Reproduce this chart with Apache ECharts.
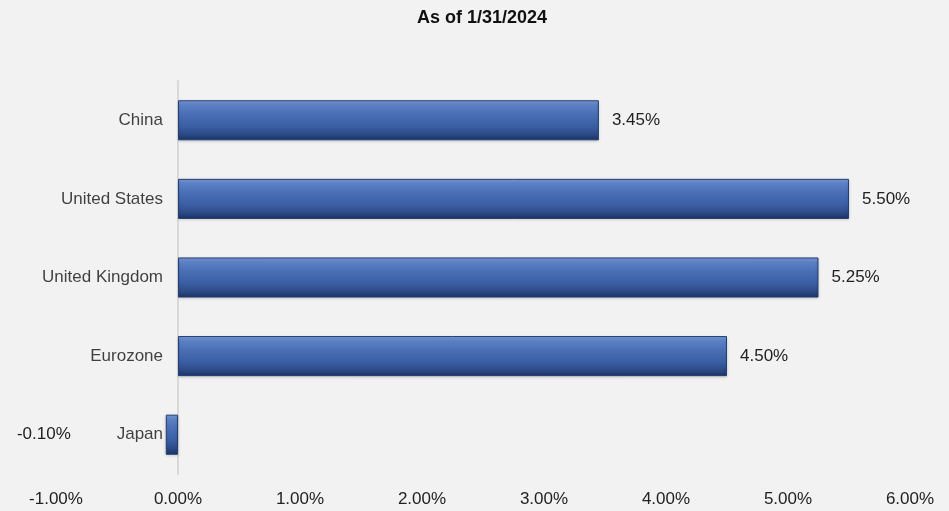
<!DOCTYPE html>
<html>
<head>
<meta charset="utf-8">
<script src="https://cdn.jsdelivr.net/npm/echarts@6/dist/echarts.min.js"></script>
<style>
  html, body { margin: 0; padding: 0; background: #f2f2f2; }
  #chart { width: 949px; height: 511px; }
</style>
</head>
<body>
<div id="chart"></div>
<script>
// Policy rates by economy, in percent
const categories = ['China', 'United States', 'United Kingdom', 'Eurozone', 'Japan'];
const rates = [3.45, 5.50, 5.25, 4.50, -0.10];
const axisMin = -1;
const axisMax = 6;
const axisStep = 1;

const FONT = '"Liberation Sans", Arial, sans-serif';

const barFill = new echarts.graphic.LinearGradient(0, 0, 0, 1, [
  { offset: 0.00, color: '#7f9fd8' },
  { offset: 0.12, color: '#5b80c5' },
  { offset: 0.35, color: '#4a6fb6' },
  { offset: 0.65, color: '#3b5ea3' },
  { offset: 0.85, color: '#2c4a86' },
  { offset: 1.00, color: '#1b3264' }
]);

const seriesData = rates.map(function (v) {
  const item = { value: v };
  if (v < 0) {
    item.label = { position: 'left', distance: 95 };
  }
  return item;
});

const chart = echarts.init(document.getElementById('chart'), null, { renderer: 'canvas' });
chart.setOption({
  backgroundColor: '#f2f2f2',
  animation: false,
  title: {
    text: 'As of 1/31/2024',
    left: 412,
    top: 4,
    textStyle: { fontFamily: FONT, fontSize: 18, fontWeight: 'bold', color: '#111' }
  },
  grid: { left: 56, right: 39, top: 81, bottom: 37, containLabel: false },
  xAxis: {
    type: 'value',
    min: axisMin,
    max: axisMax,
    interval: axisStep,
    splitLine: { show: false },
    axisLine: { show: false },
    axisTick: { show: false },
    axisLabel: {
      margin: 17,
      fontFamily: FONT,
      fontSize: 17,
      color: '#222',
      formatter: function (v) { return v.toFixed(2) + '%'; }
    }
  },
  yAxis: {
    type: 'category',
    data: categories,
    inverse: true,
    axisLine: { show: true, onZero: true, lineStyle: { color: '#d9d9d9', width: 2 } },
    axisTick: { show: false },
    axisLabel: { show: false }
  },
  series: [
    {
      type: 'bar',
      data: seriesData,
      barWidth: '51%',
      itemStyle: {
        color: barFill,
        borderColor: '#233f74',
        borderWidth: 1,
        shadowColor: 'rgba(0,0,0,0.18)',
        shadowBlur: 3,
        shadowOffsetY: 1
      },
      label: {
        show: true,
        position: 'right',
        distance: 13,
        fontFamily: FONT,
        fontSize: 17,
        color: '#222',
        formatter: function (p) { return p.value.toFixed(2) + '%'; }
      }
    },
    {
      // category names placed just left of the zero line
      type: 'scatter',
      data: categories.map(function (c) { return [0, c]; }),
      symbolSize: 0,
      silent: true,
      label: {
        show: true,
        position: 'left',
        distance: 15,
        fontFamily: FONT,
        fontSize: 17,
        color: '#111',
        formatter: function (p) { return p.value[1]; }
      },
      z: 5
    }
  ]
});
</script>
</body>
</html>
